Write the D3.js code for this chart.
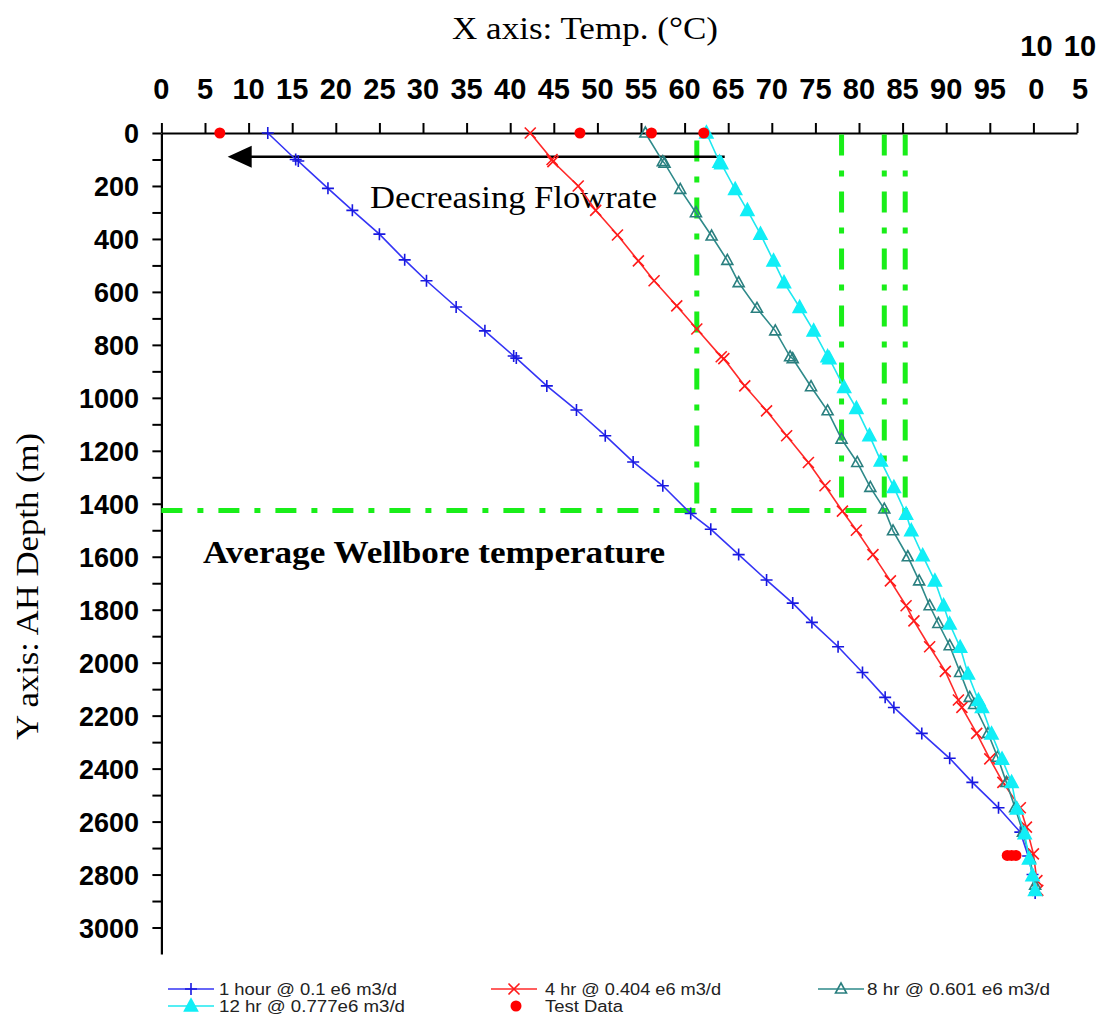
<!DOCTYPE html>
<html><head><meta charset="utf-8">
<script src="https://cdn.jsdelivr.net/npm/d3@7"></script>
<style>
html,body{margin:0;padding:0;background:#fff;}
svg{display:block;}
</style></head>
<body>
<svg id="chart" width="1102" height="1017"></svg>
<script>
// ---------- data ----------
const xTickValues = [0,5,10,15,20,25,30,35,40,45,50,55,60,65,70,75,80,85,90,95,100,105];
const yTickValues = [0,100,200,300,400,500,600,700,800,900,1000,1100,1200,1300,1400,1500,1600,1700,1800,1900,2000,2100,2200,2300,2400,2500,2600,2700,2800,2900,3000];
const yTickLabels = [0,200,400,600,800,1000,1200,1400,1600,1800,2000,2200,2400,2600,2800,3000];

const s1Name = "1 hour @ 0.1 e6 m3/d";
const s1Depth = [0,100,106,209,292,382,479,558,657,747,842,850,955,1046,1143,1242,1332,1437,1496,1592,1688,1775,1848,1940,2037,2131,2169,2267,2361,2452,2548,2640,2730,2800,2870];
const s1Temp  = [12.2,15.4,15.7,19.1,21.9,25.0,27.9,30.4,33.8,37.1,40.4,40.7,44.2,47.6,50.9,54.1,57.5,60.7,63.0,66.2,69.4,72.4,74.6,77.6,80.4,83.0,84.0,87.2,90.4,93.0,96.0,98.5,99.4,99.9,100.2];

const s2Name = "4 hr @ 0.404 e6 m3/d";
const s2Depth = [0,100,108,200,292,385,483,558,653,740,845,852,955,1049,1143,1244,1332,1428,1500,1592,1691,1785,1842,1940,2033,2141,2169,2267,2363,2452,2548,2621,2722,2823,2860];
const s2Temp  = [42.3,44.8,44.9,47.8,49.8,52.3,54.7,56.5,59.1,61.4,64.2,64.5,66.9,69.4,71.7,74.2,76.1,78.1,79.7,81.6,83.6,85.4,86.3,88.1,89.9,91.4,91.8,93.5,95.0,96.5,98.5,99.2,100.0,100.4,100.5];

const s3Name = "8 hr @ 0.601 e6 m3/d";
const s3Depth = [0,108,114,213,301,389,481,565,662,747,845,852,958,1049,1156,1244,1338,1420,1502,1600,1691,1785,1852,1936,2037,2131,2158,2267,2357,2452,2548,2640,2740,2840];
const s3Temp  = [55.5,57.5,57.7,59.5,61.3,63.1,64.9,66.2,68.3,70.4,72.1,72.4,74.5,76.4,78.0,79.8,81.3,82.9,83.9,85.6,86.9,88.1,89.1,90.4,91.6,92.7,93.2,94.8,95.9,96.9,97.9,98.8,99.6,100.2];

const s4Name = "12 hr @ 0.777e6 m3/d";
const s4Depth = [0,110,116,213,292,382,483,565,659,747,845,852,961,1040,1143,1238,1338,1439,1502,1596,1691,1785,1854,1942,2043,2143,2169,2269,2364,2452,2552,2646,2741,2804,2860];
const s4Temp  = [62.5,64.0,64.2,65.8,67.2,68.7,70.2,71.4,73.2,74.8,76.4,76.6,78.3,79.7,81.2,82.5,84.0,85.4,86.0,87.3,88.7,89.7,90.4,91.6,92.5,93.7,94.1,95.2,96.4,97.5,98.1,99.0,99.5,99.9,100.2];

const testName = "Test Data";
const testDepth = [0,0,0,0,2728,2728,2728];
const testTemp  = [6.7,48.0,56.2,62.2,97.0,97.5,98.0];

// average wellbore temperature guide lines (chart units)
const avgTemps = [61.4,78.0,82.9,85.3];
const avgTopDepth = [28,6,6,6];
const avgDepth = 1425;
const avgLineEndTemp = 85.6;

// "Decreasing Flowrate" arrow (chart units)
const arrowDepth = 90;
const arrowFromTemp = 64.6;
const arrowToTemp = 7.6;

// ---------- drawing ----------
const svg = d3.select("#chart");
const x = d3.scaleLinear().domain([0,105]).range([161.4,1077]);
const y = d3.scaleLinear().domain([0,3100]).range([133,954]);

const green = "#19ee19";
const dashPattern = "21,15,6,15";
const serif = "'Liberation Serif','Times New Roman',serif";
const sans = "'Liberation Sans', Arial, sans-serif";

// axes
const gx = svg.append("g").attr("transform",`translate(0,${y(0)})`)
  .call(d3.axisTop(x).tickValues(xTickValues).tickSize(10).tickSizeOuter(0).tickFormat(""));
gx.select(".domain").attr("stroke","#000").attr("stroke-width",2.2);
gx.selectAll(".tick line").attr("stroke","#000").attr("stroke-width",2);

const gy = svg.append("g").attr("transform",`translate(${x(0)},0)`)
  .call(d3.axisLeft(y).tickValues(yTickValues).tickSize(9).tickSizeOuter(0).tickFormat(""));
gy.select(".domain").attr("stroke","#000").attr("stroke-width",2.2);
gy.selectAll(".tick line").attr("stroke","#000").attr("stroke-width",2);

// x tick labels
const xl = svg.append("g").attr("font-family",sans)
  .attr("font-weight","bold").attr("font-size",29).attr("text-anchor","middle").attr("fill","#000");
xTickValues.forEach(v=>{
  const s = String(v);
  if (s.length>2){
    xl.append("text").attr("x",x(v)+3).attr("y",56).text(s.slice(0,2));
    xl.append("text").attr("x",x(v)+3).attr("y",99).text(s.slice(2));
  } else {
    xl.append("text").attr("x",x(v)).attr("y",99).text(s);
  }
});
// y tick labels
const yl = svg.append("g").attr("font-family",sans)
  .attr("font-weight","bold").attr("font-size",27).attr("text-anchor","end").attr("fill","#000");
yTickLabels.forEach(v=>{
  yl.append("text").attr("x",139).attr("y",y(v)+10).text(v);
});

// axis titles
svg.append("text").attr("x",452).attr("y",39).attr("textLength",266).attr("lengthAdjust","spacingAndGlyphs")
  .attr("font-family",serif).attr("font-size",31)
  .text("X axis: Temp. (°C)");
svg.append("text").attr("transform","translate(38,740) rotate(-90)").attr("textLength",307).attr("lengthAdjust","spacingAndGlyphs")
  .attr("font-family",serif).attr("font-size",31)
  .text("Y axis: AH Depth (m)");

// green guide lines
const gg = svg.append("g").attr("stroke",green).attr("stroke-width",5).attr("fill","none")
  .attr("stroke-dasharray",dashPattern);
avgTemps.forEach((t,i)=>{
  gg.append("line").attr("x1",x(t)).attr("x2",x(t)).attr("y1",y(avgTopDepth[i])).attr("y2",y(avgDepth));
});
gg.append("line").attr("x1",x(0)).attr("x2",x(avgLineEndTemp)).attr("y1",y(avgDepth)).attr("y2",y(avgDepth));

// arrow
svg.append("line").attr("x1",x(arrowFromTemp)).attr("x2",x(arrowToTemp)+22).attr("y1",y(arrowDepth)).attr("y2",y(arrowDepth))
  .attr("stroke","#000").attr("stroke-width",2.5);
svg.append("path").attr("d",`M${x(arrowToTemp)},${y(arrowDepth)} l24,-11 l0,22 z`).attr("fill","#000");

// annotations
svg.append("text").attr("x",370).attr("y",208).attr("textLength",287).attr("lengthAdjust","spacingAndGlyphs")
  .attr("font-family",serif).attr("font-size",31)
  .text("Decreasing Flowrate");
svg.append("text").attr("x",203).attr("y",563).attr("textLength",462).attr("lengthAdjust","spacingAndGlyphs")
  .attr("font-family",serif).attr("font-size",31).attr("font-weight","bold")
  .text("Average Wellbore temperature");

// series
const plus = "M-6,0H6M0,-6V6";
const cross = "M-5.5,-5.5L5.5,5.5M-5.5,5.5L5.5,-5.5";
const triOpen = "M0,-6L5.5,4L-5.5,4Z";
const triFill = "M0,-7L6.5,5L-6.5,5Z";

const series = [
  {name:s1Name, d:s1Depth, t:s1Temp, color:"#3434f5", mark:plus, fill:"none", mcolor:"#1818e0"},
  {name:s2Name, d:s2Depth, t:s2Temp, color:"#ff2a2a", mark:cross, fill:"none", mcolor:"#ff1a1a"},
  {name:s3Name, d:s3Depth, t:s3Temp, color:"#2e8a8a", mark:triOpen, fill:"none", mcolor:"#2a7f7f"},
  {name:s4Name, d:s4Depth, t:s4Temp, color:"#1de8f0", mark:triFill, fill:"#11eef6", mcolor:"#11eef6"}
];
const line = d3.line().x(p=>x(p[1])).y(p=>y(p[0]));
series.forEach(s=>{
  const pts = s.d.map((d,i)=>[d,s.t[i]]);
  const g = svg.append("g");
  g.append("path").attr("d",line(pts)).attr("fill","none").attr("stroke",s.color).attr("stroke-width",1.6);
  g.selectAll("path.m").data(pts).enter().append("path").attr("class","m")
    .attr("transform",p=>`translate(${x(p[1])},${y(p[0])})`)
    .attr("d",s.mark).attr("fill",s.fill).attr("stroke",s.mcolor).attr("stroke-width",1.6);
});
// test data
svg.append("g").selectAll("circle").data(testDepth.map((d,i)=>[d,testTemp[i]])).enter().append("circle")
  .attr("cx",p=>x(p[1])).attr("cy",p=>y(p[0])).attr("r",5.5).attr("fill","#ff0000");

// legend
const leg = svg.append("g").attr("font-family",sans).attr("font-size",16).attr("fill","#222");
const legItems = [
  {s:series[0], lx:168, ly:989, tx:219, tw:178},
  {s:series[1], lx:491, ly:989, tx:545, tw:176},
  {s:series[2], lx:818, ly:989, tx:867, tw:183},
  {s:series[3], lx:168, ly:1006, tx:219, tw:186}
];
legItems.forEach(it=>{
  leg.append("line").attr("x1",it.lx).attr("x2",it.lx+46).attr("y1",it.ly).attr("y2",it.ly)
    .attr("stroke",it.s.color).attr("stroke-width",1.6);
  leg.append("path").attr("transform",`translate(${it.lx+23},${it.ly})`).attr("d",it.s.mark)
    .attr("fill",it.s.fill).attr("stroke",it.s.mcolor).attr("stroke-width",1.6);
  leg.append("text").attr("x",it.tx).attr("y",it.ly+6).attr("textLength",it.tw).attr("lengthAdjust","spacingAndGlyphs").text(it.s.name);
});
leg.append("circle").attr("cx",516).attr("cy",1006).attr("r",5.5).attr("fill","#ff0000");
leg.append("text").attr("x",545).attr("y",1012).attr("textLength",78).attr("lengthAdjust","spacingAndGlyphs").text(testName);
</script>
</body></html>
